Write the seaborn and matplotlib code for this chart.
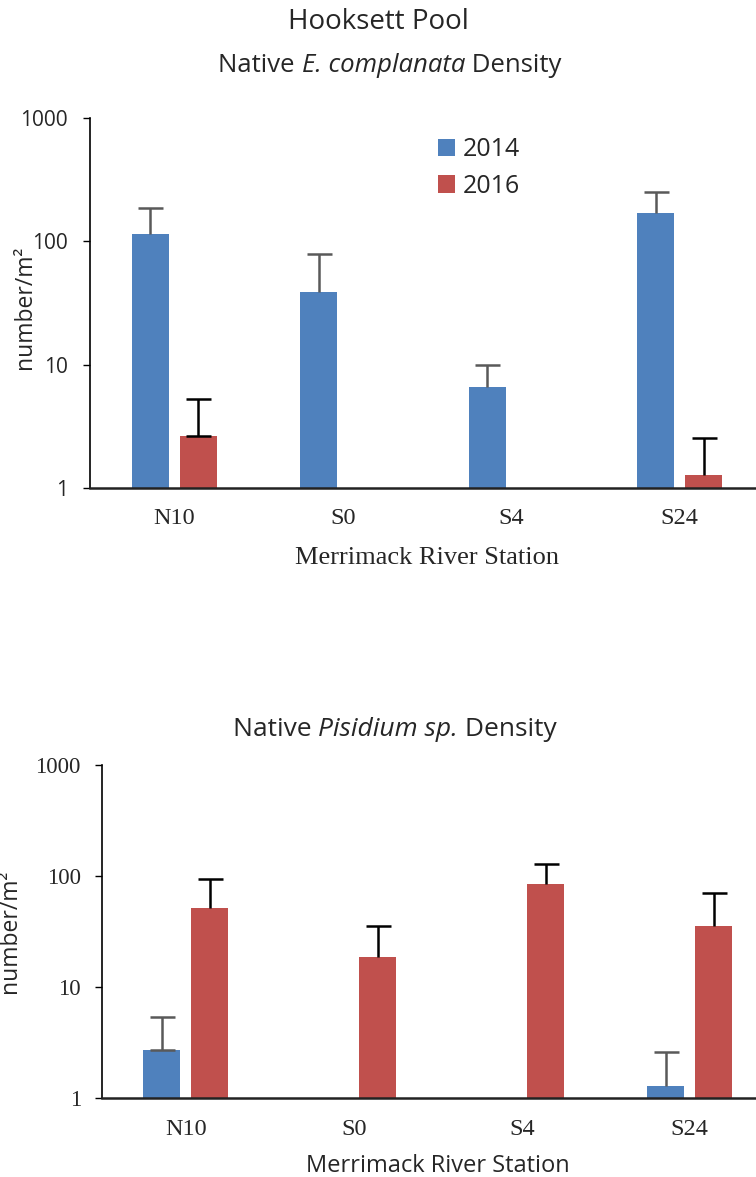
import numpy as np
import pandas as pd
import matplotlib
matplotlib.use("Agg")
import matplotlib.pyplot as plt
import seaborn as sns

# ---------------- data ----------------
stations = ["N10", "S0", "S4", "S24"]
years = ["2014", "2016"]

# E. complanata density (number/m2) and upper error bar tops
ec_2014 = [115, 39.2, 6.6, 169]
ec_2016 = [2.65, 0, 0, 1.27]
ec_2014_top = [187, 79, 10.0, 253]
ec_2016_top = [5.3, np.nan, np.nan, 2.57]

# Pisidium sp. density
pi_2014 = [2.7, 0, 0, 1.29]
pi_2016 = [52, 18.6, 85, 35.8]
pi_2014_top = [5.4, np.nan, np.nan, 2.6]
pi_2016_top = [95, 35.3, 128.5, 70]

yticks = [1, 10, 100, 1000]
ytick_labels = ["1", "10", "100", "1000"]

colors = {"2014": "#4F81BD", "2016": "#C0504D"}
err_colors = {"2014": "#595959", "2016": "#000000"}

sns.set_style("white")
SANS = ["Open Sans", "DejaVu Sans"]
SERIF = ["Liberation Serif", "DejaVu Serif"]
plt.rcParams["font.family"] = SANS


def make_df(v14, v16):
    rows = []
    for s, a, b in zip(stations, v14, v16):
        rows.append({"station": s, "year": "2014", "value": a})
        rows.append({"station": s, "year": "2016", "value": b})
    return pd.DataFrame(rows)


def draw(ax, v14, v16, t14, t16, legend, ytick_family, ytick_size, ytick_pad,
         lowcap):
    df = make_df(v14, v16)
    sns.barplot(data=df, x="station", y="value", hue="year", order=stations,
                hue_order=years, palette=colors, saturation=1, width=0.568,
                gap=0.23, errorbar=None, legend=legend, ax=ax,
                edgecolor="none")
    ax.set_yscale("log")
    ax.set_ylim(1, 1000)
    ax.set_xlim(-0.5, 3.5)
    tops = {"2014": t14, "2016": t16}
    vals = {"2014": v14, "2016": v16}
    for cont, yr in zip(ax.containers, years):
        xs = [p.get_x() + p.get_width() / 2 for p in cont.patches]
        v = np.array(vals[yr], dtype=float)
        t = np.array(tops[yr], dtype=float)
        up = t - v
        _, caps, _ = ax.errorbar(xs, v, yerr=[np.zeros_like(up), up],
                                 fmt="none", ecolor=err_colors[yr],
                                 elinewidth=1.8, capsize=9, capthick=1.8,
                                 zorder=3)
        # lower caps only where the reference shows one
        if yr == lowcap:
            caps[0].set_markevery([0])
        else:
            caps[0].set_visible(False)
    ax.yaxis.set_major_locator(matplotlib.ticker.FixedLocator(yticks))
    ax.yaxis.set_minor_locator(matplotlib.ticker.NullLocator())
    ax.set_yticklabels(ytick_labels, family=ytick_family, fontsize=ytick_size)
    ax.tick_params(axis="y", which="major", direction="out", length=5,
                   width=1, color="black", left=True, pad=ytick_pad)
    ax.tick_params(axis="x", length=0)
    for sp in ["top", "right"]:
        ax.spines[sp].set_visible(False)
    ax.spines["left"].set_color("black")
    ax.spines["left"].set_linewidth(1.2)
    ax.spines["bottom"].set_color("#222222")
    ax.spines["bottom"].set_linewidth(1.8)


def rich_text(fig, xc, yc, pieces, size):
    """Draw a sequence of (text, style) pieces centered at (xc, yc) in pixels."""
    r = fig.canvas.get_renderer()
    arts = []
    for s, st in pieces:
        t = fig.text(0, 0, s, fontsize=size, family=SANS, style=st,
                     va="center", ha="left")
        arts.append(t)
    widths = [a.get_window_extent(renderer=r).width for a in arts]
    total = sum(widths)
    x = xc - total / 2
    H = fig.bbox.height
    W = fig.bbox.width
    for a, w in zip(arts, widths):
        a.set_position((x / W, 1 - yc / H))
        x += w


fig = plt.figure(figsize=(7.56, 11.77), dpi=100)

# ---------- top chart ----------
ax1 = fig.add_axes([90 / 756, 1 - 488.3 / 1177, 674 / 756, 370.3 / 1177])
draw(ax1, ec_2014, ec_2016, ec_2014_top, ec_2016_top, True, SANS, 15, 11,
     "2016")
ax1.set_xticks(range(len(stations)))
ax1.set_xticklabels(stations, family=SERIF, fontsize=17.5)
ax1.tick_params(axis="x", pad=14)
ax1.set_xlabel("Merrimack River Station", family=SERIF, fontsize=19,
               labelpad=13)
ax1.set_ylabel("number/m²", family=SANS, fontsize=16.5)
ax1.yaxis.set_label_coords(-0.078, 0.49)
sns.move_legend(ax1, "upper left", bbox_to_anchor=(0.516, 0.948),
                frameon=False, title=None, fontsize=18, handlelength=0.7,
                handleheight=0.7, handletextpad=0.3, labelspacing=0.45,
                borderpad=0, borderaxespad=0)

fig.text(378 / 756, 1 - 22 / 1177, "Hooksett Pool", ha="center", va="center",
         fontsize=20, family=SANS)
rich_text(fig, 390, 66, [("Native ", "normal"), ("E. complanata", "italic"),
                         (" Density", "normal")], 18.5)

# ---------- bottom chart ----------
ax2 = fig.add_axes([101.7 / 756, 1 - 1098.3 / 1177, 672 / 756, 333.3 / 1177])
draw(ax2, pi_2014, pi_2016, pi_2014_top, pi_2016_top, False, SERIF, 16.5, 10,
     "2014")
ax2.set_xticks(range(len(stations)))
ax2.set_xticklabels(stations, family=SERIF, fontsize=17.5)
ax2.tick_params(axis="x", pad=15)
ax2.set_xlabel("Merrimack River Station", family=SANS, fontsize=17,
               labelpad=10)
ax2.set_ylabel("number/m²", family=SANS, fontsize=16.5)
ax2.yaxis.set_label_coords(-0.118, 0.5)
rich_text(fig, 395, 730, [("Native ", "normal"), ("Pisidium sp.", "italic"),
                          (" Density", "normal")], 19)

fig.savefig("out.png", dpi=100)
